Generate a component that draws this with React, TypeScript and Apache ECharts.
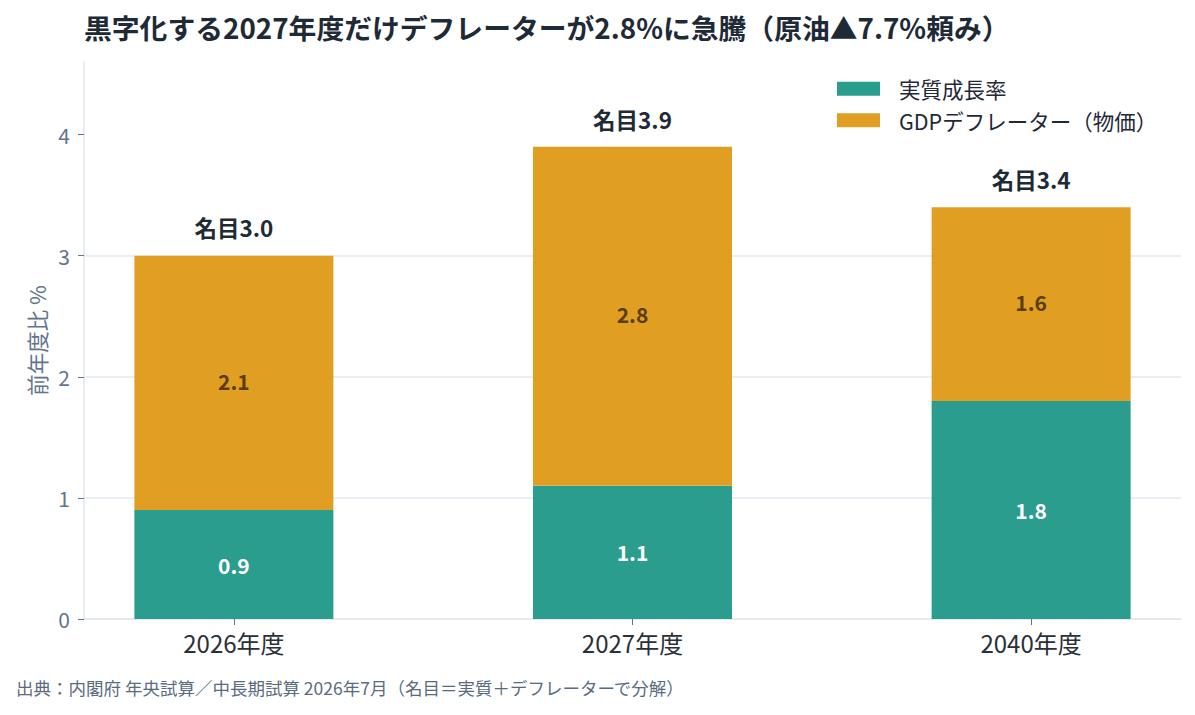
import React, { useEffect, useRef } from 'react';
import * as echarts from 'echarts';

// 年度 (x 軸のカテゴリ)
const categories = ['2026年度', '2027年度', '2040年度'];
// 実質成長率
const realGrowth = [0.9, 1.1, 1.8];
// GDPデフレーター（物価）
const deflator = [2.1, 2.8, 1.6];
// 名目成長率 (上のラベル)
const nominal = [3.0, 3.9, 3.4];
const yTicks = [0, 1, 2, 3, 4];

const FONT = '"Noto Sans CJK JP", "Noto Sans", sans-serif';

const App = () => {
    const chartRef = useRef(null);

    useEffect(() => {
        const chart = echarts.init(chartRef.current, null, { renderer: 'svg' });

        const xs = categories.map((_, i) => i);

        const option = {
            animation: false,
            textStyle: { fontFamily: FONT },
            title: {
                text: '黒字化する2027年度だけデフレーターが2.8%に急騰（原油▲7.7%頼み）',
                left: 79,
                top: 8,
                textStyle: { fontSize: 27.8, fontWeight: 'bold', color: '#1f2a37', fontFamily: FONT },
            },
            legend: {
                orient: 'vertical',
                left: 837,
                top: 78,
                padding: 0,
                itemWidth: 43,
                itemHeight: 14,
                itemGap: 10,
                icon: 'rect',
                data: ['実質成長率', 'GDPデフレーター（物価）'],
                textStyle: { fontSize: 21.5, color: '#1f2937', padding: [0, 0, 0, 14], fontFamily: FONT },
            },
            grid: { left: 84, right: 14, top: 62, bottom: 96 },
            xAxis: {
                type: 'value',
                min: -0.376,
                max: 2.376,
                axisLine: { show: true, onZero: false, lineStyle: { color: '#e2e8f0', width: 1.5 } },
                axisTick: { show: true, customValues: xs, length: 6, lineStyle: { color: '#64748b' } },
                axisLabel: {
                    customValues: xs,
                    formatter: (v: number) => categories[Math.round(v)] ?? '',
                    fontSize: 24,
                    color: '#2a2f38',
                    margin: 11,
                },
                splitLine: { show: false },
            },
            yAxis: {
                type: 'value',
                min: 0,
                max: 4.6,
                interval: 1,
                name: '前年度比 %',
                nameLocation: 'middle',
                nameRotate: 90,
                nameGap: 36,
                nameTextStyle: { fontSize: 21.5, color: '#64748b' },
                axisLine: { show: true, onZero: false, lineStyle: { color: '#e2e8f0', width: 1.5 } },
                axisTick: { show: true, customValues: yTicks, length: 6, lineStyle: { color: '#64748b' } },
                axisLabel: { customValues: yTicks, fontSize: 21, color: '#64748b', margin: 14 },
                splitLine: { show: true, showMaxLine: false, lineStyle: { color: '#e2e8f0', width: 1.5 } },
            },
            series: [
                {
                    name: '実質成長率',
                    type: 'bar',
                    stack: 'gdp',
                    barWidth: 199,
                    encode: { x: 1, y: 0 },
                    data: realGrowth.map((v, i) => [v, xs[i]]),
                    itemStyle: { color: '#2a9d8f' },
                    label: {
                        show: true,
                        position: 'inside',
                        formatter: (p: any) => p.value[0].toFixed(1),
                        fontSize: 21,
                        fontWeight: 'bold',
                        color: '#ffffff',
                    },
                },
                {
                    name: 'GDPデフレーター（物価）',
                    type: 'bar',
                    stack: 'gdp',
                    barWidth: 199,
                    encode: { x: 1, y: 0 },
                    data: deflator.map((v, i) => [v, xs[i]]),
                    itemStyle: { color: '#e09f22' },
                    label: {
                        show: true,
                        position: 'inside',
                        offset: [0, -2],
                        formatter: (p: any) => p.value[0].toFixed(1),
                        fontSize: 21,
                        fontWeight: 'bold',
                        color: '#5c3d06',
                    },
                },
                {
                    name: '名目',
                    type: 'scatter',
                    symbolSize: 0,
                    itemStyle: { color: 'transparent', opacity: 1 },
                    data: nominal.map((v, i) => [xs[i], v]),
                    label: {
                        show: true,
                        position: 'top',
                        distance: 17,
                        formatter: (p: any) => '名目' + p.value[1].toFixed(1),
                        fontSize: 22.5,
                        fontWeight: 'bold',
                        color: '#1f2a37',
                        opacity: 1,
                    },
                    silent: true,
                },
            ],
            graphic: [
                {
                    type: 'text',
                    left: 16,
                    top: 679,
                    style: {
                        text: '出典：内閣府 年央試算／中長期試算 2026年7月（名目＝実質＋デフレーターで分解）',
                        fontSize: 17.5,
                        fill: '#5b6b7f',
                        fontFamily: FONT,
                    },
                },
            ],
        };

        chart.setOption(option);

        return () => {
            chart.dispose();
        };
    }, []);

    return <div ref={chartRef} style={{ width: '1195px', height: '715px', margin: '-8px' }} />;
};

export default App;
